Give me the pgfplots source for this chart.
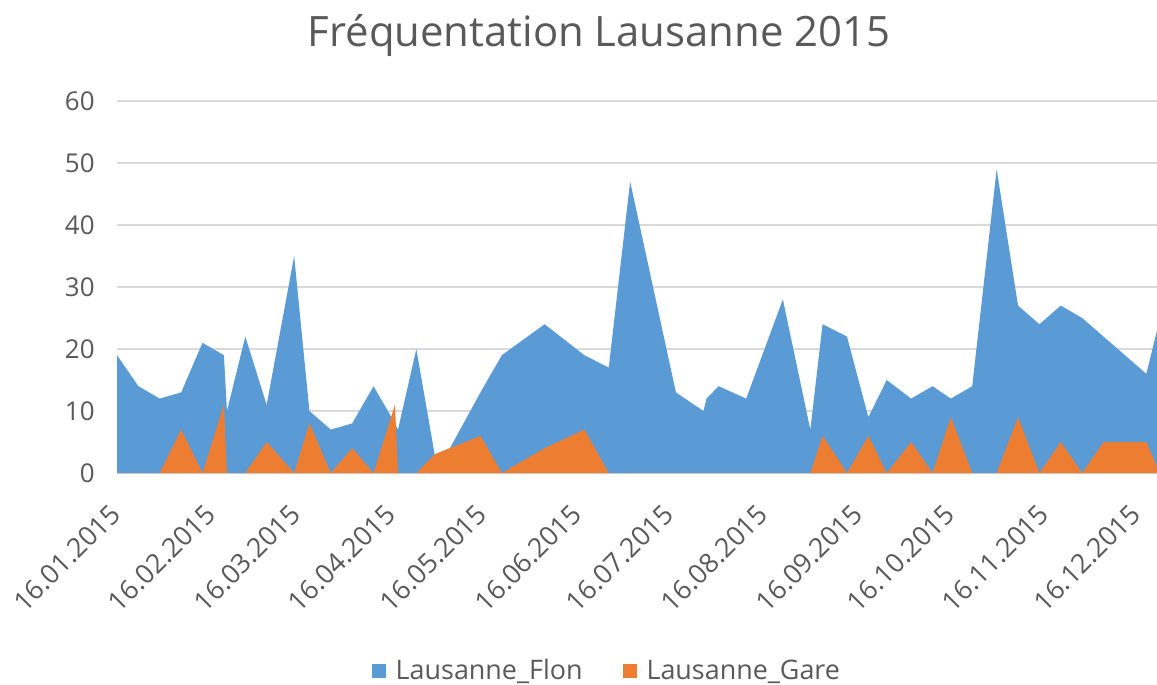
\documentclass[border=0pt]{standalone}
\usepackage{pgfplots}
\pgfplotsset{compat=1.18}
\usepackage{fontspec}
\setmainfont{Open Sans}
\definecolor{fblue}{HTML}{5B9BD5}
\definecolor{forange}{HTML}{ED7D31}
\definecolor{txt}{HTML}{595959}
\definecolor{grd}{HTML}{D9D9D9}
\begin{document}
\begin{tikzpicture}
\begin{axis}[
  name=ax,
  scale only axis,
  width=520bp, height=186bp,
  xmin=0, xmax=340.5, ymin=0, ymax=60,
  ytick={0,10,...,60},
  xtick={0,31,59,90,120,151,181,212,243,273,304,334},
  xticklabels={16.01.2015,16.02.2015,16.03.2015,16.04.2015,16.05.2015,16.06.2015,16.07.2015,16.08.2015,16.09.2015,16.10.2015,16.11.2015,16.12.2015},
  ymajorgrids,
  major grid style={grd, line width=0.6bp},
  axis line style={draw=none},
  major tick length=0pt,
  tick label style={text=txt},
  yticklabel style={font=\fontsize{13}{15}\selectfont},
  /pgf/number format/assume math mode=true,
  xticklabel style={font=\fontsize{13.5}{16}\selectfont, xshift=-4.3bp, yshift=-14.5bp, rotate=45, anchor=north east, inner sep=0pt},
  yticklabel style={anchor=east, inner sep=0pt, xshift=-11bp},
  legend style={at={(0.472,-0.532)}, anchor=center, draw=none, fill=none,
    legend columns=2, font=\fontsize{13.5}{16}\selectfont, text=txt,
    /tikz/every even column/.append style={column sep=18bp}},
  legend image code/.code={\path (0bp,0bp) -- (10bp,0bp); \fill[#1] (0bp,-3.5bp) rectangle (7bp,3.5bp);},
  clip=false,
]
\addplot[fill=fblue, draw=none] table {
0 19
7 14
14 12
21 13
28 21
35 19
36 10
42 22
49 11
58 35
63 10
70 7
77 8
84 14
91 8
92 7
98 20
104 3
109 4
119 13
126 19
140 24
153 19
161 17
168 47
183 13
192 10
193 12
197 14
206 12
218 28
227 7
231 24
239 22
246 9
252 15
260 12
267 14
273 12
280 14
288 49
295 27
302 24
309 27
316 25
323 22
330 19
337 16
340.5 23
} \closedcycle;
\addlegendentry{Lausanne\_Flon}
\addplot[fill=forange, draw=none] table {
0 0
7 0
14 0
21 7
28 0
35 11
36 0
42 0
49 5
58 0
63 8
70 0
77 4
84 0
91 11
92 0
98 0
104 3
109 4
119 6
126 0
140 4
153 7
161 0
168 0
227 0
231 6
239 0
246 6
252 0
260 5
267 0
273 9
280 0
288 0
295 9
302 0
309 5
316 0
323 5
330 5
337 5
340.5 1
} \closedcycle;
\addlegendentry{Lausanne\_Gare}
\end{axis}
\node[anchor=base, text=txt, font=\fontsize{21}{25}\selectfont] at (241bp,213bp) {Fréquentation Lausanne 2015};
\pgfresetboundingbox
\path[use as bounding box] (-58.5bp,-106bp) rectangle (520bp,236.5bp);
\end{tikzpicture}
\end{document}
